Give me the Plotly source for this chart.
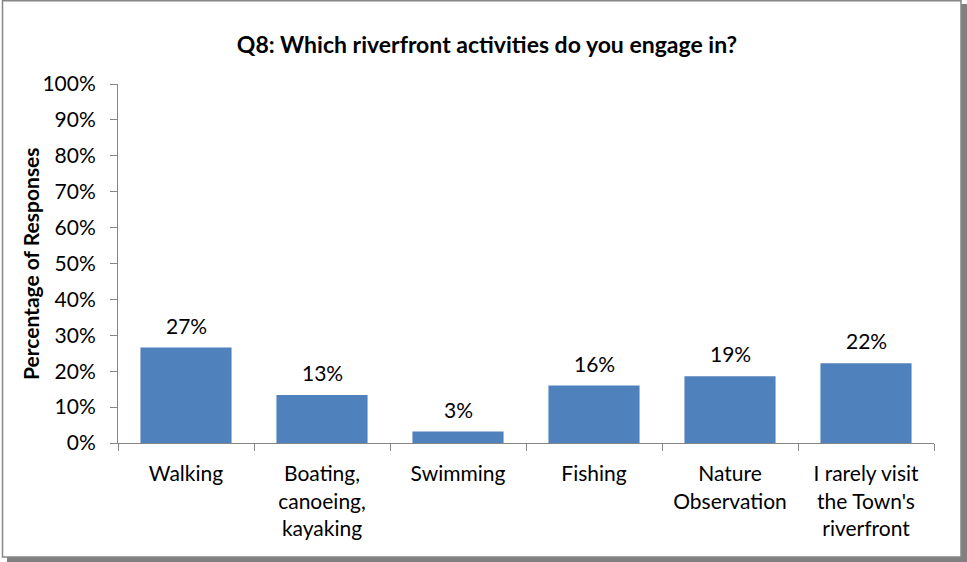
import plotly.graph_objects as go

categories = ["Walking", "Boating,<br>canoeing,<br>kayaking", "Swimming", "Fishing",
              "Nature<br>Observation", "I rarely visit<br>the Town's<br>riverfront"]
values = [0.266, 0.134, 0.032, 0.160, 0.186, 0.222]
y_ticks = [i / 10 for i in range(11)]
title_text = "Q8: Which riverfront activities do you engage in?"
y_title = "Percentage of Responses"

W, H = 967, 562
L, R, T, B = 118, 934, 84, 443  # plot area in pixels
FONT = "Lato, Calibri, sans-serif"
AX = "#868686"

def px(x):
    return (x - L) / (R - L)

def py(y):
    return (B - y) / (B - T)

fig = go.Figure(go.Bar(
    x=categories, y=values, marker=dict(color="#4F81BD", line=dict(width=0)),
    hoverinfo="skip",
))
fig.update_traces(width=0.67)

for c, v in zip(categories, values):
    fig.add_annotation(x=c, y=v, text=f"{v:.0%}", showarrow=False,
                       yanchor="bottom", yshift=8,
                       font=dict(family=FONT, size=21, color="#000000"))

fig.add_annotation(xref="paper", yref="paper", x=px(30), y=py(264), text=f"<b>{y_title}</b>",
                   textangle=-90, showarrow=False, xanchor="center", yanchor="middle",
                   font=dict(family=FONT, size=21, color="#000000"))

# chart frame with shadow
fig.add_shape(type="rect", xref="paper", yref="paper", layer="below",
              x0=px(7), x1=px(967), y0=py(562), y1=py(4),
              fillcolor="#808080", line=dict(width=0))
fig.add_shape(type="rect", xref="paper", yref="paper", layer="below",
              x0=px(2.5), x1=px(961), y0=py(557), y1=py(0.8),
              fillcolor="#ffffff", line=dict(width=1.5, color=AX))

fig.update_layout(
    width=W, height=H,
    margin=dict(l=L, r=W - R, t=T, b=H - B),
    paper_bgcolor="#ffffff", plot_bgcolor="rgba(0,0,0,0)",
    showlegend=False,
    font=dict(family=FONT, size=21, color="#000000"),
    title=dict(text=f"<b>{title_text}</b>", xref="container", yref="container",
               x=487 / W, xanchor="center", y=1 - 45 / H, yanchor="middle",
               font=dict(family=FONT, size=23, color="#000000")),
    bargap=0.33,
    xaxis=dict(showline=True, linecolor=AX, linewidth=1, ticks="outside", ticklen=7,
               tickcolor=AX, tickson="boundaries", showgrid=False, zeroline=False,
               ticklabelstandoff=12,
               tickfont=dict(family=FONT, size=21, color="#000000")),
    yaxis=dict(range=[0, 1], tickvals=y_ticks, tickformat=".0%", showline=True,
               linecolor=AX, linewidth=1, ticks="outside", ticklen=7, tickcolor=AX,
               showgrid=False, zeroline=False, ticklabelstandoff=10,
               tickfont=dict(family=FONT, size=21, color="#000000")),
)

fig.write_html("out.html", config={"displayModeBar": False, "staticPlot": True},
               post_script="document.body.style.margin='0';")
